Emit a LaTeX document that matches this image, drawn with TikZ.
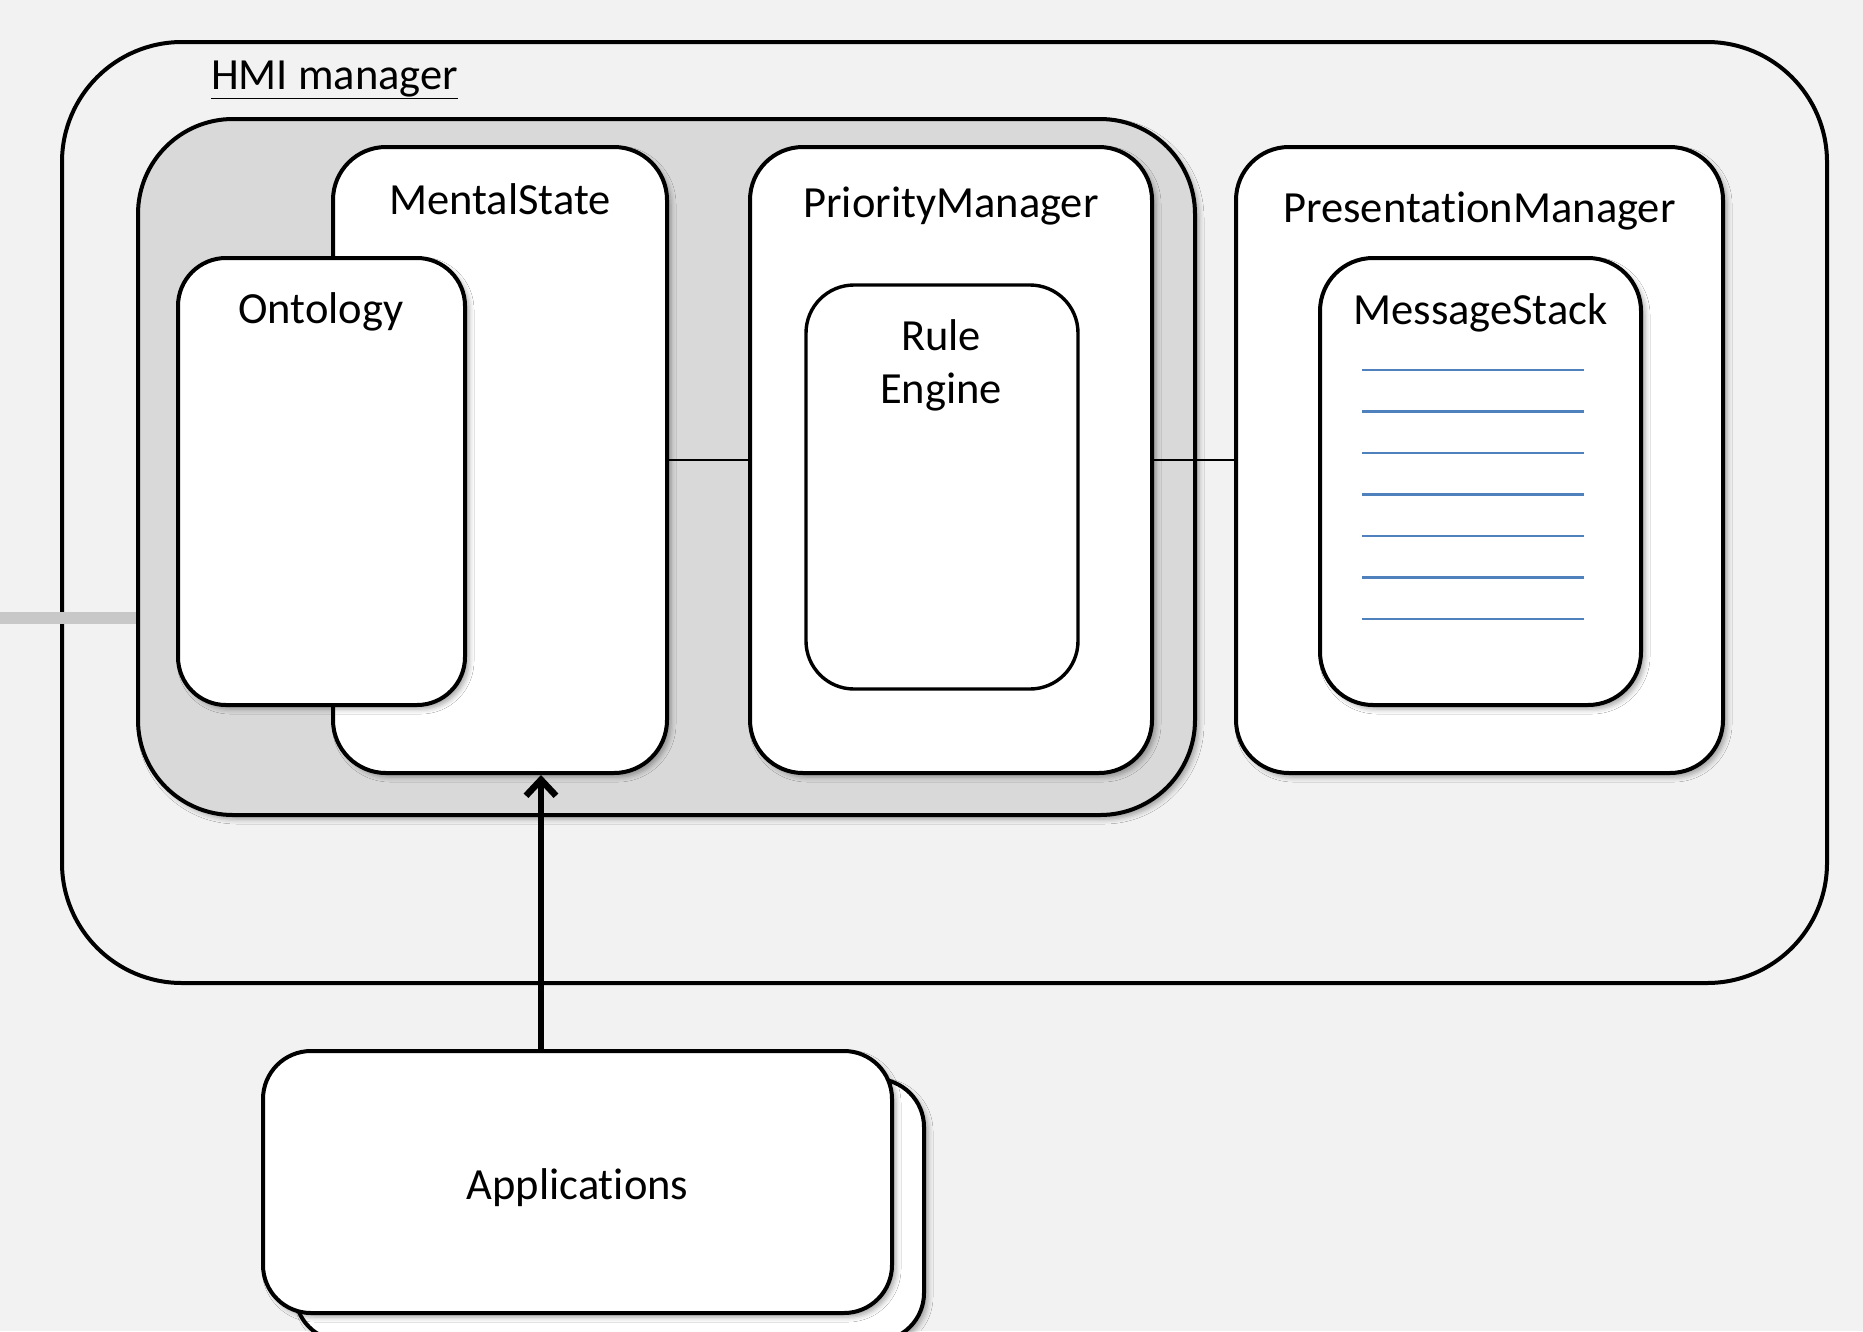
\documentclass[tikz,border=0pt]{standalone}
\usepackage{fontspec}
\setmainfont{Carlito}[Ligatures=NoCommon]
\usetikzlibrary{arrows.meta,shadows.blur}
\definecolor{pagebg}{HTML}{F2F2F2}
\definecolor{groupfill}{HTML}{D9D9D9}
\definecolor{busline}{HTML}{C8C8C8}
\definecolor{stackline}{HTML}{4F81BD}
\begin{document}
\begin{tikzpicture}[x=1pt,y=-1pt,
  softshadow/.style={blur shadow={shadow xshift=4pt,shadow yshift=-4pt,shadow blur radius=5pt,shadow opacity=35}},
  box/.style={draw=black,line width=4pt,fill=white,inner sep=0pt,rounded corners=#1,softshadow},
  lbl/.style={inner sep=0pt,anchor=base,font=\fontsize{44.5pt}{52pt}\selectfont},
  conn/.style={draw=black,line width=2.6pt},
  feed/.style={draw=black,line width=6.5pt,-{Straight Barb[length=16pt,width=30pt]}},
  bus/.style={draw=busline,line width=12pt},
  rowline/.style={draw=stackline,line width=2.3pt}]
  % page
  \useasboundingbox (0,0) rectangle (1863,1331);
  \fill[pagebg] (0,0) rectangle (1863,1331);
  % bus coming in from the left
  \coordinate (busstart) at (0,618);
  % HMI manager frame
  \node[draw=black,line width=4pt,rounded corners=120pt,inner sep=0pt,
        minimum width=1765pt,minimum height=941pt] (hmi) at (944.5,512.5) {};
  \node[lbl,anchor=base west] (hmilbl) at (211,89) {\underline{HMI manager}};
  % reasoning group
  \node[box=95pt,fill=groupfill,minimum width=1057pt,minimum height=696pt] (grp) at (666.5,467) {};
  \draw[bus] (busstart) -- (busstart -| grp.west);
  \node[box=53pt,minimum width=334pt,minimum height=626pt] (ms) at (500,460) {};
  \node[box=48pt,minimum width=287pt,minimum height=447pt] (onto) at (321.5,481.5) {};
  \node[box=53pt,minimum width=402pt,minimum height=626pt] (pm) at (951,460) {};
  \node[draw=black,line width=3.4pt,fill=white,inner sep=0pt,rounded corners=48pt,
        minimum width=272pt,minimum height=404pt] (re) at (942,487) {};
  % presentation side
  \node[box=53pt,minimum width=487pt,minimum height=626pt] (prm) at (1479.5,460) {};
  \node[box=53pt,minimum width=321pt,minimum height=447pt] (mst) at (1480.5,481.5) {};
  \foreach \yy in {370,411.5,453,494.5,536,577.5,619}
    \draw[rowline] (1362,\yy) -- (1584,\yy);
  % links between components
  \draw[conn] (ms.east) -- (pm.west);
  \draw[conn] (pm.east) -- (prm.west);
  % applications
  \node[box=48pt,minimum width=629pt,minimum height=262pt] (appsback) at (609.5,1210) {};
  \node[box=48pt,minimum width=629pt,minimum height=262pt] (apps) at (577.5,1182) {};
  \coordinate (appout) at (541,1051);
  \draw[feed] (appout) -- (appout |- ms.south);
  % labels
  \node[lbl] (mslbl) at (500,214) {MentalState};
  \node[lbl] (ontolbl) at (321,323) {Ontology};
  \node[lbl] (pmlbl) at (951,217) {PriorityManager};
  \node[lbl] (relbla) at (941,350) {Rule};
  \node[lbl] (relblb) at (941,403) {Engine};
  \node[lbl] (prmlbl) at (1479.5,222) {PresentationManager};
  \node[lbl] (mstlbl) at (1480.5,324) {MessageStack};
  \node[lbl] (appslbl) at (577.5,1199) {Applications};
\end{tikzpicture}
\end{document}
